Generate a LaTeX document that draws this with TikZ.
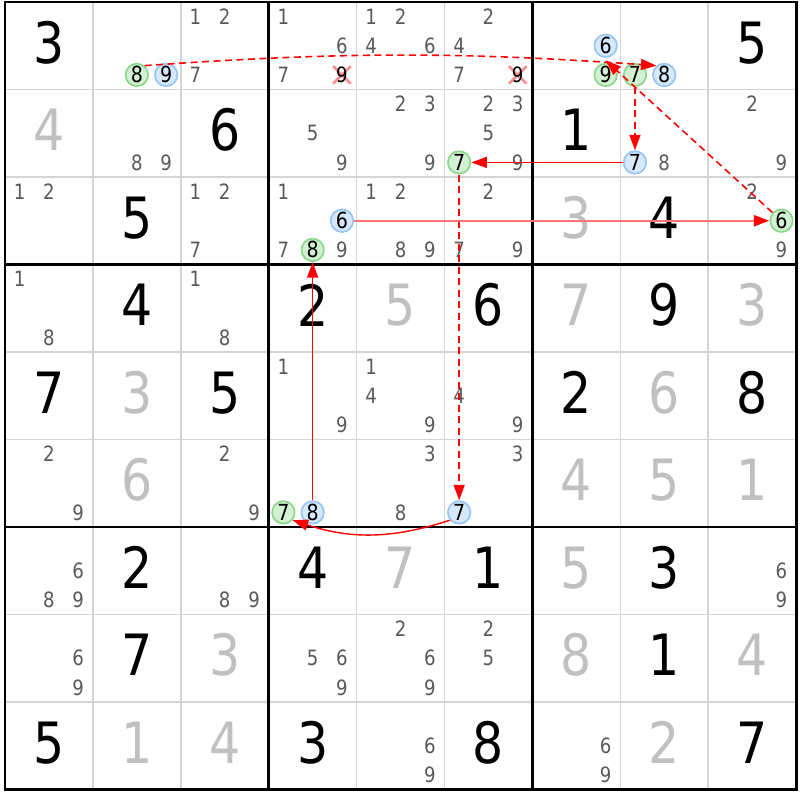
\documentclass[tikz,border=0pt]{standalone}
\usepackage{fontspec}
\setmainfont{DejaVu Sans}[FakeStretch=0.86]
\usetikzlibrary{arrows.meta, calc}
\definecolor{candgray}{HTML}{5A5A5A}
\definecolor{solvedgray}{HTML}{C0C0C0}
\definecolor{gridgray}{HTML}{D4D4D4}
\definecolor{bluefill}{HTML}{D6E8FB}
\definecolor{blueline}{HTML}{99C6F2}
\definecolor{greenfill}{HTML}{D2F0D2}
\definecolor{greenline}{HTML}{8ED88E}
\definecolor{xpink}{HTML}{FF8C8C}

\tikzset{
	given/.style={font=\fontsize{16.2pt}{18pt}\selectfont, inner sep=0pt},
	solved/.style={given, text=solvedgray},
	cand/.style={font=\fontsize{6pt}{6pt}\selectfont, inner sep=0pt, text=candgray},
	circ/.style={circle, draw, line width=0.5pt, minimum size=0.225cm, inner sep=0pt, font=\fontsize{6.3pt}{6.3pt}\selectfont},
	bc/.style={circ, draw=blueline, fill=bluefill},
	gc/.style={circ, draw=greenline, fill=greenfill},
	xmark/.style={xpink, line width=0.75pt},
	wlink/.style={red, line width=0.45pt, dash pattern=on 0.07cm off 0.045cm, -{Triangle[length=0.155cm,width=0.11cm]}},
	slink/.style={red, line width=0.4pt, -{Triangle[length=0.155cm,width=0.11cm]}},
}

\begin{document}
\begin{tikzpicture}[x=0.879cm, y=-0.875cm]
	\useasboundingbox (-0.0569,-0.0229) rectangle (9.0444,9.12);
	\fill[white] (-0.0569,-0.0229) rectangle (9.0444,9.12);
	
	% grid
	\foreach \i in {1,2,4,5,7,8} {
		\draw[gridgray, line width=0.45pt] (\i,0) -- (\i,9);
		\draw[gridgray, line width=0.45pt] (0,\i) -- (9,\i);
	}
	\foreach \i in {3,6} {
		\draw[line width=0.8pt] (\i,0) -- (\i,9);
		\draw[line width=0.8pt] (0,\i) -- (9,\i);
	}
	\draw[line width=0.8pt] (0,0) rectangle (9,9);
	
	% givens and solved cells
	\foreach \r/\c/\v in {1/1/3, 1/9/5, 2/3/6, 2/7/1, 3/2/5, 3/8/4, 4/2/4, 4/4/2, 4/6/6, 4/8/9,
		5/1/7, 5/3/5, 5/7/2, 5/9/8, 7/2/2, 7/4/4, 7/6/1, 7/8/3, 8/2/7, 8/8/1, 9/1/5, 9/4/3, 9/6/8, 9/9/7}
		\node[given] at (\c-0.5,\r-0.535) {\v};
	\foreach \r/\c/\v in {2/1/4, 3/7/3, 4/5/5, 4/7/7, 4/9/3, 5/2/3, 5/8/6, 6/2/6, 6/7/4, 6/8/5,
		6/9/1, 7/5/7, 7/7/5, 8/3/3, 8/7/8, 8/9/4, 9/2/1, 9/3/4, 9/8/2}
		\node[solved] at (\c-0.5,\r-0.535) {\v};
	
	% candidates
	\foreach \r/\c/\ds in {1/3/{1,2,7}, 1/4/{1,6,7}, 1/5/{1,2,4,6}, 1/6/{2,4,7}, 2/2/{8,9}, 2/4/{5,9},
		2/5/{2,3,9}, 2/6/{2,3,5,9}, 2/8/{8}, 2/9/{2,9}, 3/1/{1,2}, 3/3/{1,2,7}, 3/4/{1,7,9},
		3/5/{1,2,8,9}, 3/6/{2,7,9}, 3/9/{2,9}, 4/1/{1,8}, 4/3/{1,8}, 5/4/{1,9}, 5/5/{1,4,9},
		5/6/{4,9}, 6/1/{2,9}, 6/3/{2,9}, 6/5/{3,8}, 6/6/{3}, 7/1/{6,8,9}, 7/3/{8,9}, 7/9/{6,9},
		8/1/{6,9}, 8/4/{5,6,9}, 8/5/{2,6,9}, 8/6/{2,5}, 9/5/{6,9}, 9/7/{6,9}}
		\foreach \d in \ds
			\node[cand] at ({\c-0.5+(mod(\d-1,3)-1)/3},{\r-0.5+(int((\d-1)/3)-1)/3}) {\d};
	
	% eliminated
	\foreach \c in {4,6} {
		\draw[xmark] (\c-0.2667,0.7333) -- (\c-0.0667,0.9333) (\c-0.2667,0.9333) -- (\c-0.0667,0.7333);
		\node[cand, text=black] at (\c-0.1667,0.8333) {9};
	}
	
	% marked candidates
	\foreach \r/\c/\d/\s in {1/2/8/gc, 1/2/9/bc, 1/7/6/bc, 1/7/9/gc, 1/8/7/gc, 1/8/8/bc, 2/6/7/gc,
		2/8/7/bc, 3/4/6/bc, 3/4/8/gc, 3/9/6/gc, 6/4/7/gc, 6/4/8/bc, 6/6/7/bc}
		\node[\s] (\d r\r c\c) at ({\c-0.5+(mod(\d-1,3)-1)/3},{\r-0.5+(int((\d-1)/3)-1)/3}) {\d};
	\coordinate (69r1c7) at ($(6r1c7)!0.5!(9r1c7)$);
	
	% chain
	\draw[wlink] (8r1c2.50) to[bend left=4] (8r1c8.130);
	\draw[wlink] (7r1c8) -- (7r2c8);
	\draw[slink, line width=0.35pt] (7r2c8) -- (7r2c6);
	\draw[wlink] (7r2c6) -- (7r6c6);
	\draw[slink] (7r6c6.220) to[bend left=18] (7r6c4.320);
	\draw[slink] (8r6c4) -- (8r3c4);
	\draw[slink, draw=red!55, line width=0.6pt, -{Triangle[length=0.155cm,width=0.11cm,color=red]}] (6r3c4) -- (6r3c9);
	\draw[wlink] (6r3c9) -- (69r1c7);
\end{tikzpicture}
\end{document}
